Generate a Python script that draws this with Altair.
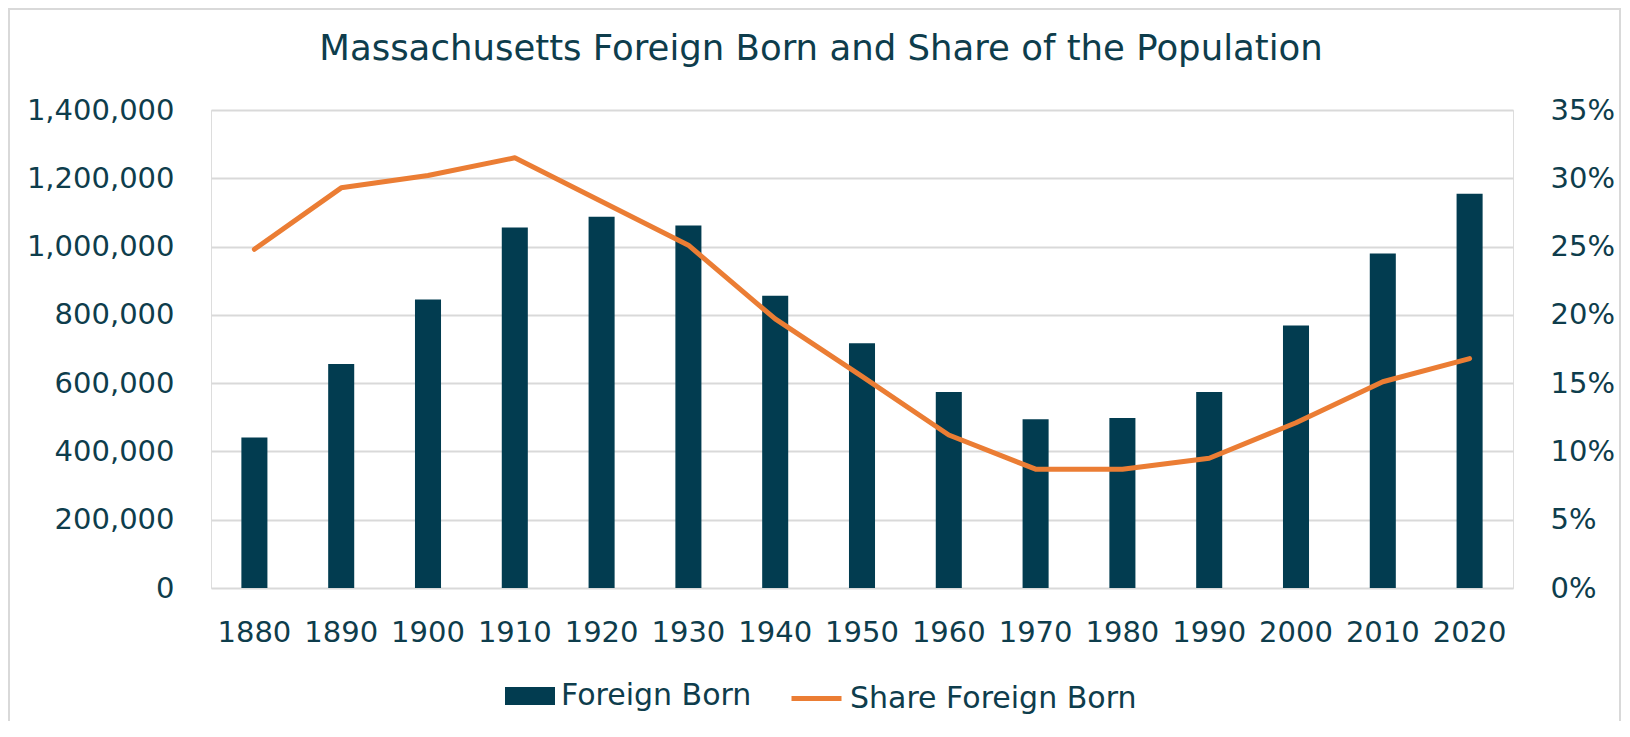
import altair as alt
import pandas as pd

years = ["1880", "1890", "1900", "1910", "1920", "1930", "1940", "1950",
         "1960", "1970", "1980", "1990", "2000", "2010", "2020"]
foreign_born = [441000, 656000, 845000, 1056000, 1087000, 1062000, 856000, 717000,
                574000, 494000, 498000, 574000, 769000, 980000, 1155000]
share_foreign_born = [0.248, 0.293, 0.302, 0.315, 0.283, 0.251, 0.197, 0.155,
                      0.112, 0.087, 0.087, 0.095, 0.121, 0.151, 0.168]

series_names = ["Foreign Born", "Share Foreign Born"]
series_colors = ["#023C50", "#EB7D34"]
left_ticks = [0, 200000, 400000, 600000, 800000, 1000000, 1200000, 1400000]
right_ticks = [0, 0.05, 0.10, 0.15, 0.20, 0.25, 0.30, 0.35]

TEXT = "#0E3D4C"
GRID = "#D9D9D9"
FONT = "DejaVu Sans"

df = pd.DataFrame({"year": years, "fb": foreign_born, "share": share_foreign_born})

base = alt.Chart(df)

common_legend = dict(orient="none", direction="horizontal", title=None,
                     labelFont=FONT, labelFontSize=30, labelColor=TEXT,
                     labelLimit=500, symbolSize=2500, labelOffset=6, symbolOpacity=1)

bar_legend = alt.Legend(legendX=294, legendY=561,
                        symbolType="M-1,-0.36H1V0.36H-1Z", symbolStrokeWidth=0,
                        **common_legend)
line_legend = alt.Legend(legendX=578, legendY=561, symbolType="stroke",
                         symbolStrokeWidth=5, **common_legend)

x_enc = alt.X("year:O", title=None,
              scale=alt.Scale(paddingInner=0.7, paddingOuter=0.35),
              axis=alt.Axis(labelAngle=0, ticks=False, domain=False, labelPadding=30,
                            labelFont=FONT, labelFontSize=29, labelColor=TEXT,
                            grid=False))

bars = base.transform_calculate(series="'Foreign Born'").mark_bar().encode(
    x=x_enc,
    y=alt.Y("fb:Q", title=None,
            scale=alt.Scale(domain=[0, 1400000], nice=False),
            axis=alt.Axis(values=left_ticks, format=",.0f", ticks=False, domain=False,
                          labelPadding=37, labelFont=FONT, labelFontSize=29,
                          labelColor=TEXT, grid=True, gridColor=GRID, gridWidth=2)),
    color=alt.Color("series:N",
                    scale=alt.Scale(domain=[series_names[0]], range=[series_colors[0]]),
                    legend=bar_legend),
)

line = base.transform_calculate(series="'Share Foreign Born'").mark_line(
    strokeWidth=5, strokeCap="round", strokeJoin="round"
).encode(
    x=x_enc,
    y=alt.Y("share:Q", title=None,
            scale=alt.Scale(domain=[0, 0.35], nice=False),
            axis=alt.Axis(values=right_ticks, format=".0%", orient="right", ticks=False,
                          domain=False, labelPadding=37, labelFont=FONT,
                          labelFontSize=29, labelColor=TEXT, grid=False)),
    color=alt.Color("series:N",
                    scale=alt.Scale(domain=[series_names[1]], range=[series_colors[1]]),
                    legend=line_legend),
)

border = alt.Chart(alt.Data(values=[{}])).mark_rect(
    fill="transparent", stroke=GRID, strokeWidth=2
).encode(
    x=alt.value(-202), x2=alt.value(1409), y=alt.value(-101), y2=alt.value(618)
)

chart = alt.layer(bars, line, border).resolve_scale(
    y="independent", color="independent"
).properties(
    width=1302, height=478,
    padding={"left": 203, "top": 102, "right": 109, "bottom": 133},
    autosize=alt.AutoSizeParams(type="none"),
    title=alt.TitleParams("Massachusetts Foreign Born and Share of the Population",
                          font=FONT, fontSize=35.5, fontWeight="normal", color=TEXT,
                          anchor="middle", frame="group", dx=-41, offset=-87,
                          baseline="alphabetic"),
).configure_view(stroke=None).configure(background="white")

chart.save("out.html", embed_options={"renderer": "svg", "actions": False})
